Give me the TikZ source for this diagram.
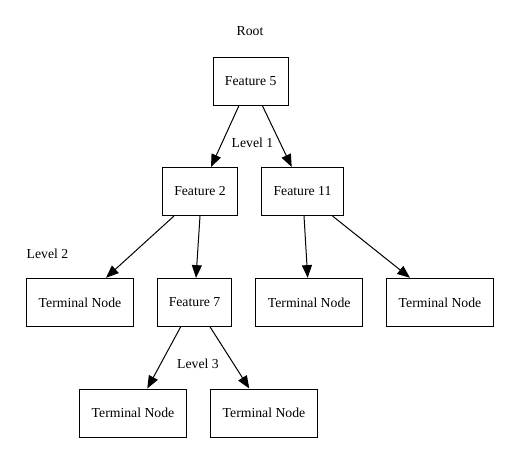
\documentclass[tikz,border=0pt]{standalone}
\usepackage{fontspec}
\setmainfont{Liberation Serif}
\usetikzlibrary{arrows.meta}
\begin{document}
\begin{tikzpicture}[x=0.75pt,y=-0.75pt,
  box/.style={draw, line width=0.75pt, minimum height=36pt, inner sep=0pt, font=\fontsize{10.3}{12}\selectfont},
  fbox/.style={box, minimum width=56pt},
  tbox/.style={box, minimum width=80pt},
  lbl/.style={inner sep=0pt, font=\fontsize{10.3}{12}\selectfont},
  edge/.style={line width=0.75pt, -{Triangle[length=9.5pt,width=7.5pt]}}]
\useasboundingbox (0,0) rectangle (520,464);
\node[lbl] (root) at (250,31.5) {Root};
\node[lbl] (l1) at (252.5,142.5) {Level 1};
\node[lbl] (l2) at (47.5,253.5) {Level 2};
\node[lbl] (l3) at (198,363.5) {Level 3};
\node[fbox] (f5) at (250.7,81) {Feature 5};
\node[fbox] (f2) at (200,191.5) {Feature 2};
\node[box, minimum width=61.2pt] (f11) at (302.5,191.5) {Feature 11};
\node[tbox] (t1) at (80,302.3) {Terminal Node};
\node[fbox] (f7) at (194.5,302.3) {Feature 7};
\node[tbox] (t3) at (309.2,302.3) {Terminal Node};
\node[tbox] (t4) at (440,302.3) {Terminal Node};
\node[tbox] (t5) at (133,413) {Terminal Node};
\node[tbox] (t6) at (264,413) {Terminal Node};
\draw[edge] ([xshift=-11.7*0.75pt]f5.south) -- ([xshift=11*0.75pt]f2.north);
\draw[edge] ([xshift=11.6*0.75pt]f5.south) -- ([xshift=-10.8*0.75pt]f11.north);
\draw[edge] ([xshift=-26*0.75pt]f2.south) -- ([xshift=26*0.75pt]t1.north);
\draw[edge] (f2.south) -- ([xshift=1.5*0.75pt]f7.north);
\draw[edge] ([xshift=1.5*0.75pt]f11.south) -- ([xshift=-1.5*0.75pt]t3.north);
\draw[edge] ([xshift=30*0.75pt]f11.south) -- ([xshift=-30*0.75pt]t4.north);
\draw[edge] ([xshift=-13.8*0.75pt]f7.south) -- ([xshift=14.3*0.75pt]t5.north);
\draw[edge] ([xshift=15.5*0.75pt]f7.south) -- ([xshift=-14.7*0.75pt]t6.north);
\end{tikzpicture}
\end{document}
